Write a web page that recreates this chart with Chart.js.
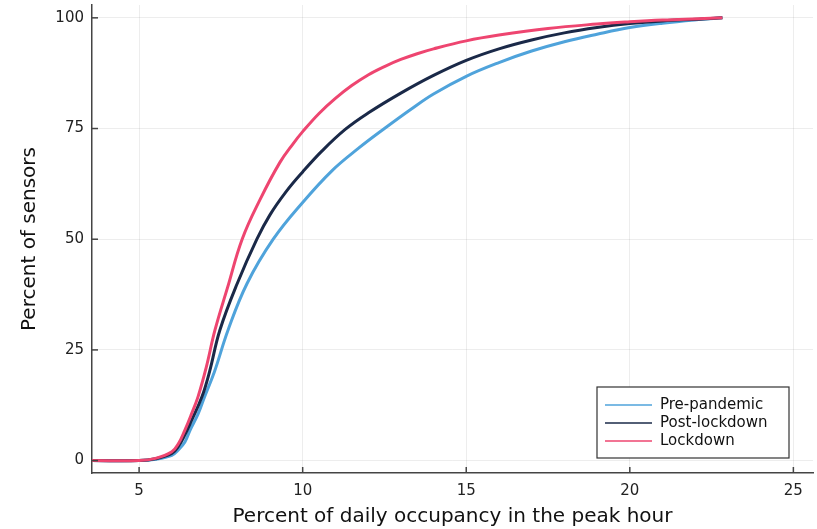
<!DOCTYPE html>
<html>
<head>
<meta charset="utf-8">
<script src="https://cdn.jsdelivr.net/npm/chart.js@4/dist/chart.umd.min.js"></script>
<style>
  html, body { margin: 0; padding: 0; background: #fff; }
  #wrap { width: 817px; height: 529px; }
</style>
</head>
<body>
<div id="wrap"><canvas id="grafico" width="817" height="529"></canvas></div>
<script>
// datos (x = % ocupacion diaria en hora punta, y = % sensores)
const preX  = [3.56, 5, 5.5, 6.0, 6.2, 6.4, 6.56, 6.8, 7.0, 7.3, 7.72, 8.3, 9.1, 10, 10.9, 11.7, 12.5, 13.3, 14.0, 15, 16, 17, 18, 19, 20, 21, 22.1, 22.83];
const preY  = [0, 0, 0.3, 1.2, 2.4, 4.2, 6.9, 10.5, 14.4, 20, 29.5, 40, 50, 58.3, 65.5, 70.5, 75, 79.3, 82.8, 86.8, 89.9, 92.5, 94.6, 96.3, 97.8, 98.8, 99.6, 100];

const postX = [3.56, 5, 5.5, 6.0, 6.2, 6.4, 6.6, 6.92, 7.15, 7.47, 8.0, 8.6, 9.0, 9.5, 10, 10.6, 11.3, 12, 13, 14, 15, 16, 17, 18, 19, 20, 21, 22.1, 22.83];
const postY = [0, 0, 0.4, 1.6, 3.2, 5.8, 9, 14.4, 20, 29.5, 40, 50, 55.5, 60.8, 65.2, 70, 74.8, 78.5, 83, 87, 90.4, 93, 95, 96.6, 97.8, 98.7, 99.3, 99.7, 100];

const lockX = [3.56, 5, 5.5, 6.0, 6.2, 6.4, 6.6, 6.8, 7.05, 7.32, 7.7, 8.15, 8.7, 9.3, 9.7, 10, 10.5, 11, 11.5, 12, 12.5, 13, 13.5, 14, 15, 16, 17.5, 19, 20, 21, 22.1, 22.83];
const lockY = [0, 0, 0.5, 2, 3.8, 6.9, 10.5, 14.4, 21, 29.5, 39, 50, 59, 67.3, 71.5, 74.3, 78.4, 81.8, 84.7, 87.1, 89, 90.6, 91.9, 93, 94.8, 96.1, 97.6, 98.6, 99.1, 99.5, 99.8, 100];

const xTicks = [5, 10, 15, 20, 25];
const yTicks = [0, 25, 50, 75, 100];

const nombres = ['Pre-pandemic', 'Post-lockdown', 'Lockdown'];
const colores = ['#4fa3db', '#1a2948', '#ee4570'];

function puntos(xs, ys) {
    return xs.map((x, i) => ({x: x, y: ys[i]}));
}

// marcas de eje hacia dentro + leyenda dentro del area
const extras = {
    id: 'extras',
    afterDraw(chart) {
        const ctx = chart.ctx;
        const a = chart.chartArea;
        const sx = chart.scales.x, sy = chart.scales.y;
        ctx.save();
        ctx.strokeStyle = '#444';
        ctx.lineWidth = 1.5;
        xTicks.forEach(v => {
            const p = sx.getPixelForValue(v);
            ctx.beginPath(); ctx.moveTo(p, a.bottom); ctx.lineTo(p, a.bottom - 6); ctx.stroke();
        });
        yTicks.forEach(v => {
            const p = sy.getPixelForValue(v);
            ctx.beginPath(); ctx.moveTo(a.left, p); ctx.lineTo(a.left + 6, p); ctx.stroke();
        });

        // leyenda
        const bx = 597, by = 387, bw = 192, bh = 71;
        ctx.fillStyle = '#fff';
        ctx.fillRect(bx, by, bw, bh);
        ctx.strokeStyle = '#333';
        ctx.lineWidth = 1.2;
        ctx.strokeRect(bx, by, bw, bh);
        ctx.font = '15px "DejaVu Sans"';
        ctx.textBaseline = 'middle';
        nombres.forEach((n, i) => {
            const yy = by + 18 + i * 18;
            ctx.globalAlpha = 0.75;
            ctx.strokeStyle = colores[i];
            ctx.lineWidth = 2;
            ctx.beginPath(); ctx.moveTo(bx + 8, yy); ctx.lineTo(bx + 55, yy); ctx.stroke();
            ctx.globalAlpha = 1;
            ctx.fillStyle = '#111';
            ctx.fillText(n, bx + 63, yy);
        });
        ctx.restore();
    }
};

const ctx = document.getElementById('grafico').getContext('2d');
new Chart(ctx, {
    type: 'line',
    data: {
        datasets: [
            {label: nombres[0], data: puntos(preX, preY), borderColor: colores[0], order: 3},
            {label: nombres[1], data: puntos(postX, postY), borderColor: colores[1], order: 2},
            {label: nombres[2], data: puntos(lockX, lockY), borderColor: colores[2], order: 1}
        ]
    },
    options: {
        responsive: false,
        animation: false,
        layout: {padding: {left: 18, right: 4, top: 5, bottom: 0}},
        elements: {
            point: {radius: 0},
            line: {borderWidth: 3, tension: 0.4, fill: false}
        },
        plugins: {
            legend: {display: false},
            tooltip: {enabled: false}
        },
        scales: {
            x: {
                type: 'linear',
                min: 3.56,
                max: 25.6,
                afterBuildTicks: s => { s.ticks = xTicks.map(v => ({value: v})); },
                afterFit: s => { s.height = 56; s.paddingLeft = 0; s.paddingRight = 0; },
                grid: {color: 'rgba(0,0,0,0.07)', drawTicks: false},
                border: {color: '#444', width: 1.5},
                ticks: {padding: 9, color: '#222', font: {family: 'DejaVu Sans', size: 15}},
                title: {display: true, text: 'Percent of daily occupancy in the peak hour', color: '#111',
                    font: {family: 'DejaVu Sans', size: 20}, padding: {top: 2, bottom: 0}}
            },
            y: {
                min: -2.8,
                max: 102.9,
                afterBuildTicks: s => { s.ticks = yTicks.map(v => ({value: v})); },
                afterFit: s => { s.width = 74; s.paddingTop = 0; s.paddingBottom = 0; },
                grid: {color: 'rgba(0,0,0,0.07)', drawTicks: false},
                border: {color: '#444', width: 1.5},
                ticks: {padding: 8, color: '#222', font: {family: 'DejaVu Sans', size: 15}},
                title: {display: true, text: 'Percent of sensors', color: '#111',
                    font: {family: 'DejaVu Sans', size: 20}, padding: {top: 0, bottom: 4}}
            }
        }
    },
    plugins: [extras]
});
</script>
</body>
</html>
